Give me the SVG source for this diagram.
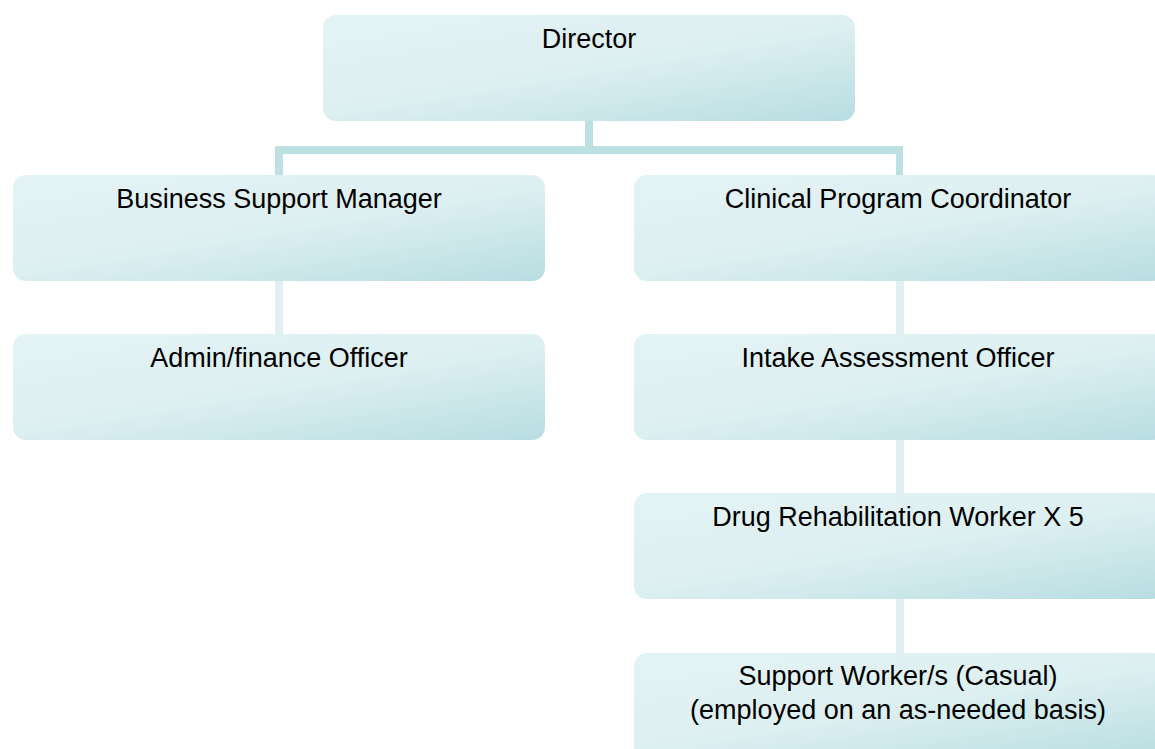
<svg xmlns="http://www.w3.org/2000/svg" width="1155" height="749" viewBox="0 0 1155 749">
  <defs>
    <linearGradient id="boxGrad" x1="0.2" y1="0.1" x2="0.95" y2="1">
      <stop offset="0" stop-color="#e3f2f4"/>
      <stop offset="0.45" stop-color="#dceff1"/>
      <stop offset="1" stop-color="#b9dee2"/>
    </linearGradient>
    <style>
      .box { fill: url(#boxGrad); }
      .lbl { font-family: "Liberation Sans", Arial, sans-serif; font-size: 27px; fill: #000; text-anchor: middle; }
      .conn-dark { fill: #bde0e3; }
      .conn-light { fill: #e0f0f2; }
    </style>
  </defs>
  <rect width="1155" height="749" fill="#ffffff"/>

  <g id="connectors">
    <rect class="conn-dark" x="585" y="120" width="8" height="30"/>
    <rect class="conn-dark" x="275" y="146" width="628" height="8"/>
    <rect class="conn-dark" x="275" y="146" width="8" height="30"/>
    <rect class="conn-dark" x="896" y="146" width="7" height="30"/>
    <rect class="conn-light" x="275" y="280" width="8" height="55"/>
    <rect class="conn-light" x="896" y="280" width="8" height="55"/>
    <rect class="conn-light" x="896" y="439" width="8" height="55"/>
    <rect class="conn-light" x="896" y="598" width="8" height="56"/>
  </g>

  <g id="director">
    <rect class="box" x="323" y="15" width="532" height="106" rx="13"/>
    <text class="lbl" x="589" y="48">Director</text>
  </g>
  <g id="business-support-manager">
    <rect class="box" x="13" y="175" width="532" height="106" rx="13"/>
    <text class="lbl" x="279" y="208">Business Support Manager</text>
  </g>
  <g id="clinical-program-coordinator">
    <rect class="box" x="634" y="175" width="532" height="106" rx="13"/>
    <text class="lbl" x="898" y="208">Clinical Program Coordinator</text>
  </g>
  <g id="admin-finance-officer">
    <rect class="box" x="13" y="334" width="532" height="106" rx="13"/>
    <text class="lbl" x="279" y="367">Admin/finance Officer</text>
  </g>
  <g id="intake-assessment-officer">
    <rect class="box" x="634" y="334" width="532" height="106" rx="13"/>
    <text class="lbl" x="898" y="367">Intake Assessment Officer</text>
  </g>
  <g id="drug-rehabilitation-worker">
    <rect class="box" x="634" y="493" width="532" height="106" rx="13"/>
    <text class="lbl" x="898" y="526">Drug Rehabilitation Worker X 5</text>
  </g>
  <g id="support-worker">
    <rect class="box" x="634" y="653" width="532" height="106" rx="13"/>
    <text class="lbl" x="898" y="685">Support Worker/s (Casual)</text>
    <text class="lbl" x="898" y="719">(employed on an as-needed basis)</text>
  </g>
</svg>
